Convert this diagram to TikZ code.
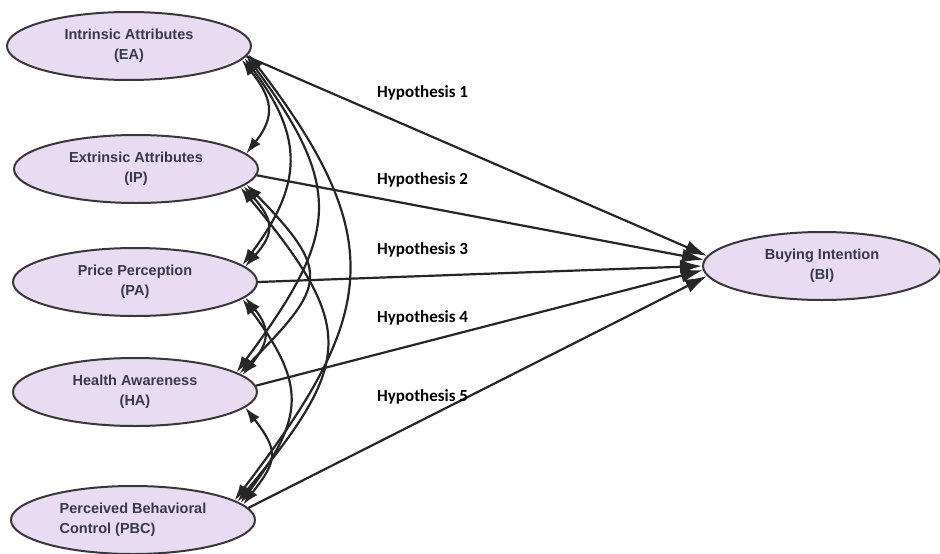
\documentclass[tikz,border=0pt]{standalone}
\usepackage{fontspec}
\setmainfont{Liberation Sans}
\newfontfamily\hypfont{Carlito}
\usetikzlibrary{shapes.geometric,arrows.meta}
\definecolor{ellfill}{HTML}{E9DCF2}
\definecolor{elltext}{HTML}{353A4C}
\definecolor{ellline}{HTML}{383838}
\begin{document}
\begin{tikzpicture}[x=1pt,y=-1pt,
  construct/.style={ellipse, draw=ellline, line width=2pt, fill=ellfill,
    minimum width=244pt, minimum height=68pt, inner sep=0pt,
    font=\bfseries\fontsize{14.5}{20}\selectfont, text=elltext, align=center},
  hyp/.style={font=\hypfont\bfseries\fontsize{17}{20}\selectfont, anchor=west, inner sep=0pt},
  hpath/.style={line width=2.2pt, draw=black!85, -{Latex[length=22pt,width=14pt]}},
  cov/.style={line width=2.2pt, draw=black!85, {Latex[length=16pt,width=11pt]}-{Latex[length=16pt,width=11pt]}}]
\useasboundingbox (0,0) rectangle (940,554);

\node[construct] (EA)  at (129,46)  {Intrinsic Attributes\\(EA)};
\node[construct] (IP)  at (136,169) {Extrinsic Attributes\\(IP)};
\node[construct] (PA)  at (135,282) {Price Perception\\(PA)};
\node[construct] (HA)  at (135,392) {Health Awareness\\(HA)};
\node[construct, align=left] (PBC) at (133,520) {Perceived Behavioral\\Control (PBC)};
\node[construct, minimum width=238pt] (BI) at (822,266) {Buying Intention\\(BI)};

% hypotheses paths
\draw[hpath] (EA.-5)  -- (BI.175);
\draw[hpath] (IP.-3)  -- (BI.177.5);
\draw[hpath] (PA.0)   -- (BI.180);
\draw[hpath] (HA.3)   -- (BI.182.5);
\draw[hpath] (PBC.6)  -- (BI.185);

% correlations
\draw[cov] (EA.-7)  .. controls +(30,38)  and +(30,-38)  .. (IP.8);
\draw[cov] (IP.-9)  .. controls +(30,34)  and +(30,-34)  .. (PA.8);
\draw[cov] (PA.-8)  .. controls +(26,32)  and +(26,-32)  .. (HA.9);
\draw[cov] (HA.-8)  .. controls +(34,44)  and +(34,-44)  .. (PBC.8);
\draw[cov] (EA.-6)  .. controls +(60,80)  and +(60,-80)  .. (PA.9);
\draw[cov] (IP.-8)  .. controls +(86,88)  and +(86,-88)  .. (HA.10);
\draw[cov] (PA.-9)  .. controls +(64,86)  and +(64,-86)  .. (PBC.9);
\draw[cov] (EA.-5)  .. controls +(100,135) and +(100,-135) .. (HA.11);
\draw[cov] (IP.-10) .. controls +(116,140) and +(116,-140) .. (PBC.10);
\draw[cov] (EA.-4)  .. controls +(142,185) and +(142,-185) .. (PBC.11);

\node[hyp] (h1) at (377,93)  {Hypothesis 1};
\node[hyp] (h2) at (377,180) {Hypothesis 2};
\node[hyp] (h3) at (377,250) {Hypothesis 3};
\node[hyp] (h4) at (377,318) {Hypothesis 4};
\node[hyp] (h5) at (377,397) {Hypothesis 5};
\end{tikzpicture}
\end{document}
